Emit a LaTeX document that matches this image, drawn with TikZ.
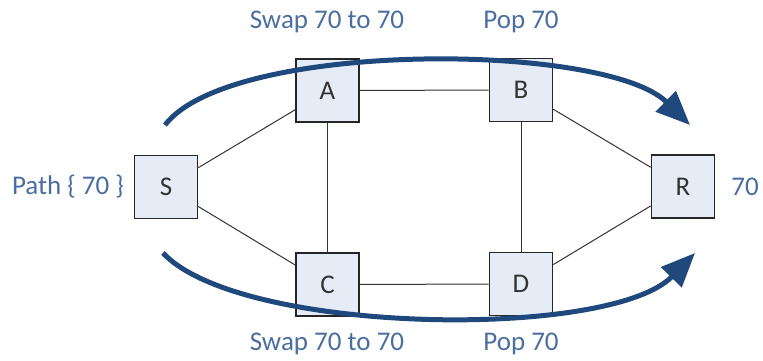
\documentclass[tikz,border=0pt]{standalone}
\usepackage{fontspec}
\setmainfont{Carlito}
\usepackage{xcolor}
\usepackage{tikz}
\usetikzlibrary{arrows.meta}

\definecolor{boxfill}{HTML}{E6ECF6}
\definecolor{lbltext}{HTML}{4A6EA0}
\definecolor{flowblue}{HTML}{1F497D}

\begin{document}
\begin{tikzpicture}[x=1pt,y=1pt,
                router/.style = {draw=black!85, line width=1.6pt, fill=boxfill,
                  minimum size=63pt, inner sep=0pt,
                  font=\fontsize{27}{30}\selectfont, text=black!80},
                lbl/.style = {text=lbltext, font=\fontsize{27}{30}\selectfont},
                link/.style = {draw=black!80, line width=1pt},
                flow/.style = {draw=flowblue, line width=5pt,
                  -{Triangle[length=34pt,width=28pt]}}]
            \useasboundingbox (0,0) rectangle (763,360);
            % Nodes
            \node[router] (S) at (166,173) {S};
            \node[router] (A) at (327.5,269.5) {A};
            \node[router] (B) at (521,270) {B};
            \node[router] (C) at (327.5,75.5) {C};
            \node[router] (D) at (521,76) {D};
            \node[router] (R) at (683,173.5) {R};

            % Labels
            \node[lbl] (swapA) at (327,338) {Swap 70 to 70};
            \node[lbl] (popB) at (521,338) {Pop 70};
            \node[lbl] (swapC) at (327,16) {Swap 70 to 70};
            \node[lbl] (popD) at (521,16) {Pop 70};
            \node[lbl] (path) at (68,173) {Path \{ 70 \}};
            \node[lbl] (out) at (745,173) {70};

            %Edges
            \draw[link] (S) -- (A);
            \draw[link] (S) -- (C);
            \draw[link] (A) -- (B);
            \draw[link] (A) -- (C);
            \draw[link] (C) -- (D);
            \draw[link] (B) -- (D);
            \draw[link] (B) -- (R);
            \draw[link] (D) -- (R);

            % Flows
            \coordinate (topS) at (165,235);
            \coordinate (topR) at (690,235);
            \coordinate (botS) at (163,107);
            \coordinate (botR) at (695,107);
            \draw[flow] (topS) .. controls (230,320) and (605,318) .. (topR);
            \draw[flow] (botS) .. controls (240,25) and (610,20) .. (botR);
        \end{tikzpicture}
\end{document}
